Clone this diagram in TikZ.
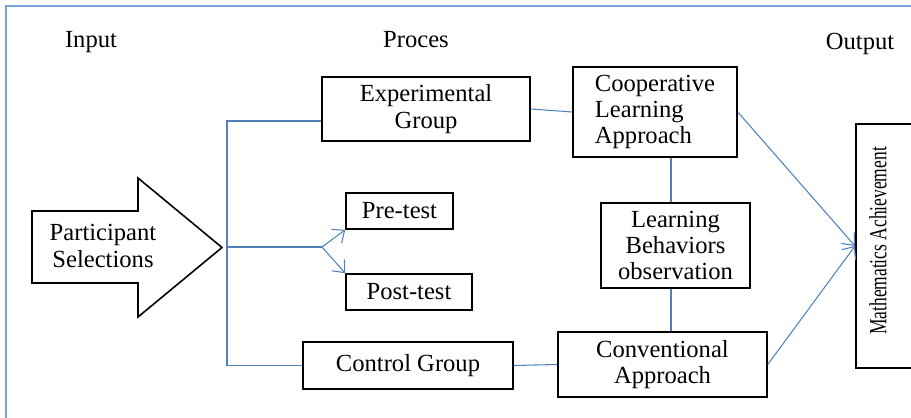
\documentclass[tikz,border=0pt]{standalone}
\usepackage{fontspec}
\setmainfont{Liberation Serif}
\usepackage{graphicx}
\usetikzlibrary{arrows.meta}
\definecolor{linkblue}{RGB}{79,129,189}
\definecolor{frameblue}{RGB}{120,164,215}
\begin{document}
\begin{tikzpicture}[x=0.02cm,y=-0.02cm,
    font=\fontsize{14}{15}\selectfont,
    box/.style={draw,line width=0.9pt,inner sep=2pt,align=center},
    link/.style={linkblue,line width=0.6pt},
    barb/.style={-{Straight Barb[length=2mm,width=3.4mm]}}]
  \useasboundingbox (0,0) rectangle (911,418);
  \draw[frameblue,line width=1pt] (6,418) -- (6,6) -- (911,6);
  \node (input) at (91,42) {Input};
  \node (proces) at (416,40) {Proces};
  \node (output) at (860,44) {Output};
  \draw[line width=0.9pt,fill=white] (32,211) -- (138,211) -- (138,178) -- (222,247.5)
    -- (138,317) -- (138,283) -- (32,283) -- cycle;
  \node[align=center] (part) at (103,246) {Participant\\Selections};
  \node[box,minimum width=4.16cm,minimum height=1.28cm] (exp) at (426,109) {Experimental\\Group};
  \node[box,minimum width=3.28cm,minimum height=1.8cm,align=left] (coop) at (655,112) {Cooperative\\Learning\\Approach};
  \node[box,minimum width=2.98cm,minimum height=1.7cm] (lb) at (675.5,245.5) {Learning\\Behaviors\\observation};
  \node[box,minimum width=4.18cm,minimum height=1.3cm] (conv) at (662.5,364.5) {Conventional\\Approach};
  \node[box,minimum width=4.2cm,minimum height=0.94cm] (ctrl) at (408,365.5) {Control Group};
  \node[box,minimum width=2.14cm,minimum height=0.72cm] (pre) at (399.5,211) {Pre-test};
  \node[box,minimum width=2.52cm,minimum height=0.72cm] (post) at (409,292) {Post-test};
  \node[box,minimum width=1.6cm,minimum height=4.88cm,anchor=west] (mathbox) at (855,246) {};
  \node[rotate=90] (mathtxt) at (878,241) {\scalebox{0.71}[1]{Mathematics Achievement}};
  \coordinate (sptop) at (227,121);
  \coordinate (spmid) at (227,247);
  \coordinate (fork) at (322,247);
  \coordinate (mid) at (671,0);
  \draw[link] (exp.west |- sptop) -- (sptop) -- (sptop |- ctrl.west) -- (ctrl.west);
  \draw[link] (spmid) -- (fork);
  \draw[link,barb] (fork) -- (pre.south west);
  \draw[link,barb] (fork) -- (post.north west);
  \draw[link] (exp.east) -- (coop.west);
  \draw[link] (ctrl.east) -- (conv.west);
  \draw[link] (coop.south -| mid) -- (lb.north -| mid);
  \draw[link] (lb.south -| mid) -- (conv.north -| mid);
  \draw[link,barb] (coop.east) -- (mathbox.west);
  \draw[link,barb] (conv.east) -- (mathbox.west);
\end{tikzpicture}
\end{document}
